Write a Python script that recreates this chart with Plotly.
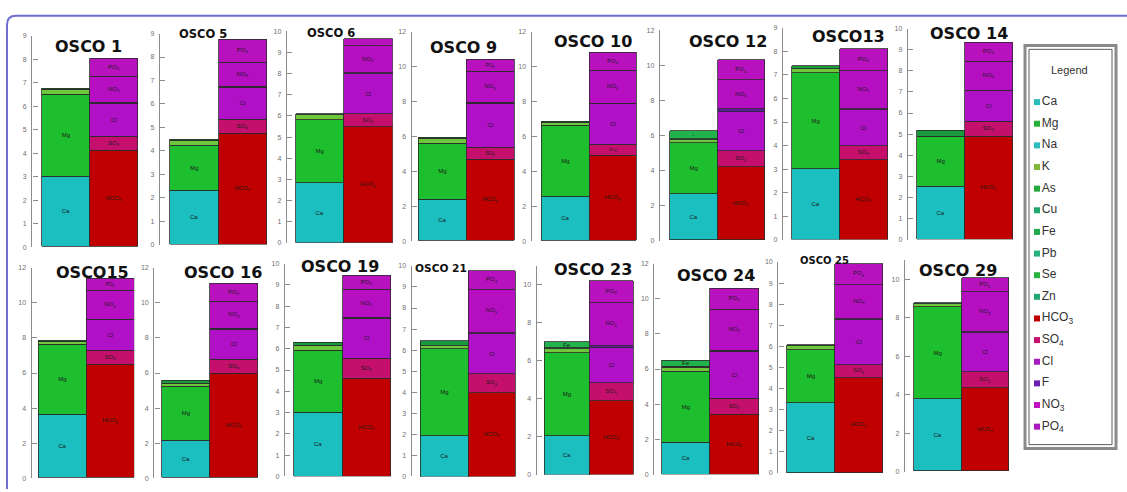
import plotly.graph_objects as go

# ---------------- data ----------------
sites = ["OSCO 1", "OSCO 5", "OSCO 6", "OSCO 9", "OSCO 10", "OSCO 12", "OSCO13", "OSCO 14",
         "OSCO15", "OSCO 16", "OSCO 19", "OSCO 21", "OSCO 23", "OSCO 24", "OSCO 25", "OSCO 29"]

# cations (meq/L)
Ca = [3.00, 2.30, 2.83, 2.35, 2.52, 2.63, 2.99, 2.49, 3.62, 2.12, 3.01, 1.95, 2.02, 1.81, 3.33, 3.77]
Mg = [3.50, 1.94, 2.96, 3.24, 4.07, 2.90, 4.09, 2.37, 4.00, 3.10, 2.90, 4.10, 4.40, 4.06, 2.50, 4.77]
K = [0.18, 0.20, 0.24, 0.29, 0.19, 0.22, 0.17, 0.00, 0.13, 0.18, 0.23, 0.15, 0.18, 0.20, 0.20, 0.17]
Cu = [0.05, 0.05, 0.07, 0.07, 0.09, 0.05, 0.14, 0.31, 0.09, 0.15, 0.16, 0.24, 0.05, 0.05, 0.04, 0.06]
Fe = [0.00, 0.00, 0.00, 0.00, 0.00, 0.43, 0.00, 0.00, 0.00, 0.00, 0.00, 0.00, 0.33, 0.37, 0.00, 0.00]

# anions (meq/L)
HCO3 = [4.10, 4.76, 5.48, 4.69, 4.90, 4.18, 3.38, 4.86, 6.47, 5.97, 4.60, 3.95, 3.87, 3.40, 4.52, 4.34]
SO4 = [0.60, 0.58, 0.59, 0.68, 0.60, 0.94, 0.60, 0.73, 0.81, 0.80, 0.96, 0.93, 0.95, 0.90, 0.62, 0.81]
Cl = [1.40, 1.38, 1.88, 2.53, 2.35, 2.20, 1.52, 1.45, 1.74, 1.72, 1.87, 1.90, 1.85, 2.70, 2.13, 2.06]
F = [0.04, 0.04, 0.05, 0.05, 0.05, 0.15, 0.04, 0.03, 0.04, 0.04, 0.05, 0.05, 0.10, 0.05, 0.05, 0.05]
NO3 = [1.13, 1.01, 1.30, 1.77, 1.84, 1.69, 1.65, 1.36, 1.64, 1.53, 1.32, 2.03, 2.28, 2.33, 1.60, 2.05]
PO4 = [0.73, 0.98, 0.31, 0.68, 1.03, 1.12, 0.91, 0.93, 0.70, 1.03, 0.66, 0.91, 1.17, 1.18, 0.97, 0.74]

# y-axis scales (tick labels)
y_max = [9, 9, 10, 12, 12, 12, 9, 10, 12, 12, 10, 10, 11, 12, 10, 11]
y_step = [1, 1, 1, 2, 2, 2, 1, 1, 2, 2, 1, 1, 2, 2, 1, 2]

legend_labels = ["Ca", "Mg", "Na", "K", "As", "Cu", "Fe", "Pb", "Se", "Zn",
                 "HCO<sub>3</sub>", "SO<sub>4</sub>", "Cl", "F", "NO<sub>3</sub>", "PO<sub>4</sub>"]

# ---------------- styles ----------------
legend_colors = ["#2bbcbc", "#26b03a", "#2bbcbc", "#82b83a", "#27a83c", "#22a86c", "#22a84e", "#26b07c",
                 "#2bb342", "#22a872", "#c00000", "#c8106e", "#a51cc2", "#6a20b0", "#c010c0", "#aa18be"]
bar_colors = {"Ca": "#1cbfbf", "Mg": "#1ebf2e", "K": "#6fc83c", "Cu": "#1a9a3e", "Fe": "#22b24c",
              "HCO3": "#c00000", "SO4": "#c4106c", "Cl": "#b010c6", "F": "#5a1a9a",
              "NO3": "#b60fc2", "PO4": "#b812be"}

W, H = 1127, 492
# pixel geometry for each panel: y-axis line x, cation bar left, anion bar right, y of 0, y of axis max
geom = [
    (32.3, 42, 138, 246.7, 32.3), (160, 170, 267, 244.3, 30), (287, 296, 392.7, 242.3, 27.7),
    (411.7, 419, 515, 240.7, 28.3), (531.7, 541.7, 637, 240.7, 28.3), (660, 670, 765, 240, 26.7),
    (783, 792, 888, 239, 24.3), (908, 916.7, 1013, 239, 25),
    (31.7, 39, 134.3, 481, 267.7), (154.3, 162.3, 258.3, 481, 267.7), (285, 294, 391, 479.3, 263.3),
    (411.7, 420.7, 516, 479.3, 265.7), (536.7, 545, 634, 477.3, 265.7), (654.3, 662.3, 759, 477.3, 263.3),
    (778.3, 787.7, 883.3, 475.7, 261.7), (905, 914, 1009.3, 474.3, 260),
]
# title positions (center x, center y, font size)
title_pos = [
    (88, 43, 16), (202.5, 30, 11.5), (331, 29, 11.5), (463, 44, 16), (592.5, 38.3, 16), (727.5, 38.3, 16),
    (848.5, 32.5, 16), (969, 30, 16),
    (92.5, 272, 16), (222.5, 272.3, 16), (340, 266.7, 16), (441, 268.3, 10.6), (592.5, 269, 16),
    (715.8, 275.7, 16), (824, 260, 10), (958, 270, 16),
]


def xd(px):
    return px / W


def yd(py):
    return 1 - py / H


fig = go.Figure()
layout = dict(width=W, height=H, autosize=False, margin=dict(l=0, r=0, t=0, b=0),
              paper_bgcolor="white", plot_bgcolor="rgba(0,0,0,0)", barmode="stack", bargap=0,
              showlegend=False, font=dict(family="Liberation Sans"))

cations = [("Ca", Ca, "Ca"), ("Mg", Mg, "Mg"), ("K", K, ""), ("Cu", Cu, ""), ("Fe", Fe, "Fe")]
anions = [("HCO3", HCO3, "HCO<sub>3</sub>"), ("SO4", SO4, "SO<sub>4</sub>"), ("Cl", Cl, "Cl"),
          ("F", F, ""), ("NO3", NO3, "NO<sub>3</sub>"), ("PO4", PO4, "PO<sub>4</sub>")]

annotations = []
for i in range(16):
    n = i + 1
    xa = "x" if n == 1 else f"x{n}"
    ya = "y" if n == 1 else f"y{n}"
    for xpos, group in ((0, cations), (1, anions)):
        for sp, vals, lab in group:
            v = vals[i]
            if not v:
                continue
            kw = {}
            if lab:
                kw = dict(text=[lab], textposition="inside", insidetextanchor="middle", textangle=0,
                          textfont=dict(size=6, color="#1a1a1a", family="Liberation Sans"))
            fig.add_trace(go.Bar(
                x=[xpos], y=[v], width=[1], xaxis=xa, yaxis=ya, showlegend=False, hoverinfo="skip",
                marker=dict(color=bar_colors[sp], line=dict(color="#2a2a2a", width=0.8)), **kw))
    ax, catL, anR, y0, ytop = geom[i]
    bw = (anR - catL) / 2
    layout[f"xaxis{n if n > 1 else ''}"] = dict(
        domain=[xd(ax), xd(anR)], range=[-0.5 - (catL - ax) / bw, 1.5], visible=False,
        fixedrange=True, anchor=ya)
    layout[f"yaxis{n if n > 1 else ''}"] = dict(
        domain=[yd(y0), yd(ytop)], range=[0, y_max[i]], dtick=y_step[i], tick0=0, anchor=xa,
        showline=True, linecolor="#8c8c8c", linewidth=1.4, ticks="inside", ticklen=5,
        tickcolor="#8c8c8c", tickwidth=1, showgrid=False, zeroline=False,
        tickfont=dict(size=7, color="#707070"), ticklabelstandoff=3, fixedrange=True)
    tx, ty, ts = title_pos[i]
    annotations.append(dict(x=xd(tx), y=yd(ty), xref="paper", yref="paper", showarrow=False,
                            text=f"<b>{sites[i]}</b>", xanchor="center", yanchor="middle",
                            font=dict(family="DejaVu Sans", size=ts, color="#111111")))

# pixel overlay axes for legend and frame
layout["xaxis17"] = dict(domain=[0, 1], range=[0, W], visible=False, fixedrange=True, anchor="y17")
layout["yaxis17"] = dict(domain=[0, 1], range=[H, 0], visible=False, fixedrange=True, anchor="x17")

legend_y = [99.5 + 21.95 * k for k in range(len(legend_labels))]
fig.add_trace(go.Scatter(
    x=[1037] * len(legend_labels), y=legend_y, xaxis="x17", yaxis="y17", mode="markers+text",
    marker=dict(symbol="square", size=6, color=legend_colors, line=dict(width=0)),
    text=legend_labels, textposition="middle right",
    textfont=dict(size=12, color="#333333", family="Liberation Sans"),
    showlegend=False, hoverinfo="skip"))

annotations.append(dict(x=1069, y=67, xref="x17", yref="y17", text="Legend", showarrow=False,
                        xanchor="center", yanchor="middle",
                        font=dict(size=11, color="#333333", family="Liberation Sans")))

shapes = [
    dict(type="path", xref="x17", yref="y17", path="M 7,520 L 7,21 Q 7,12 16,12 L 1140,12",
         line=dict(color="#6e6ed0", width=2)),
    dict(type="rect", xref="x17", yref="y17", x0=1025, x1=1116, y0=42, y1=451,
         line=dict(color="#8a8a8a", width=3)),
    dict(type="rect", xref="x17", yref="y17", x0=1029, x1=1112, y0=46, y1=447,
         line=dict(color="#5a5a5a", width=1)),
]

layout["annotations"] = annotations
layout["shapes"] = shapes
fig.update_layout(**layout)
fig.write_html("out.html", config={"displayModeBar": False},
               post_script="document.body.style.margin='0px';document.body.style.padding='0px';"
                           "document.body.style.overflow='hidden';")
